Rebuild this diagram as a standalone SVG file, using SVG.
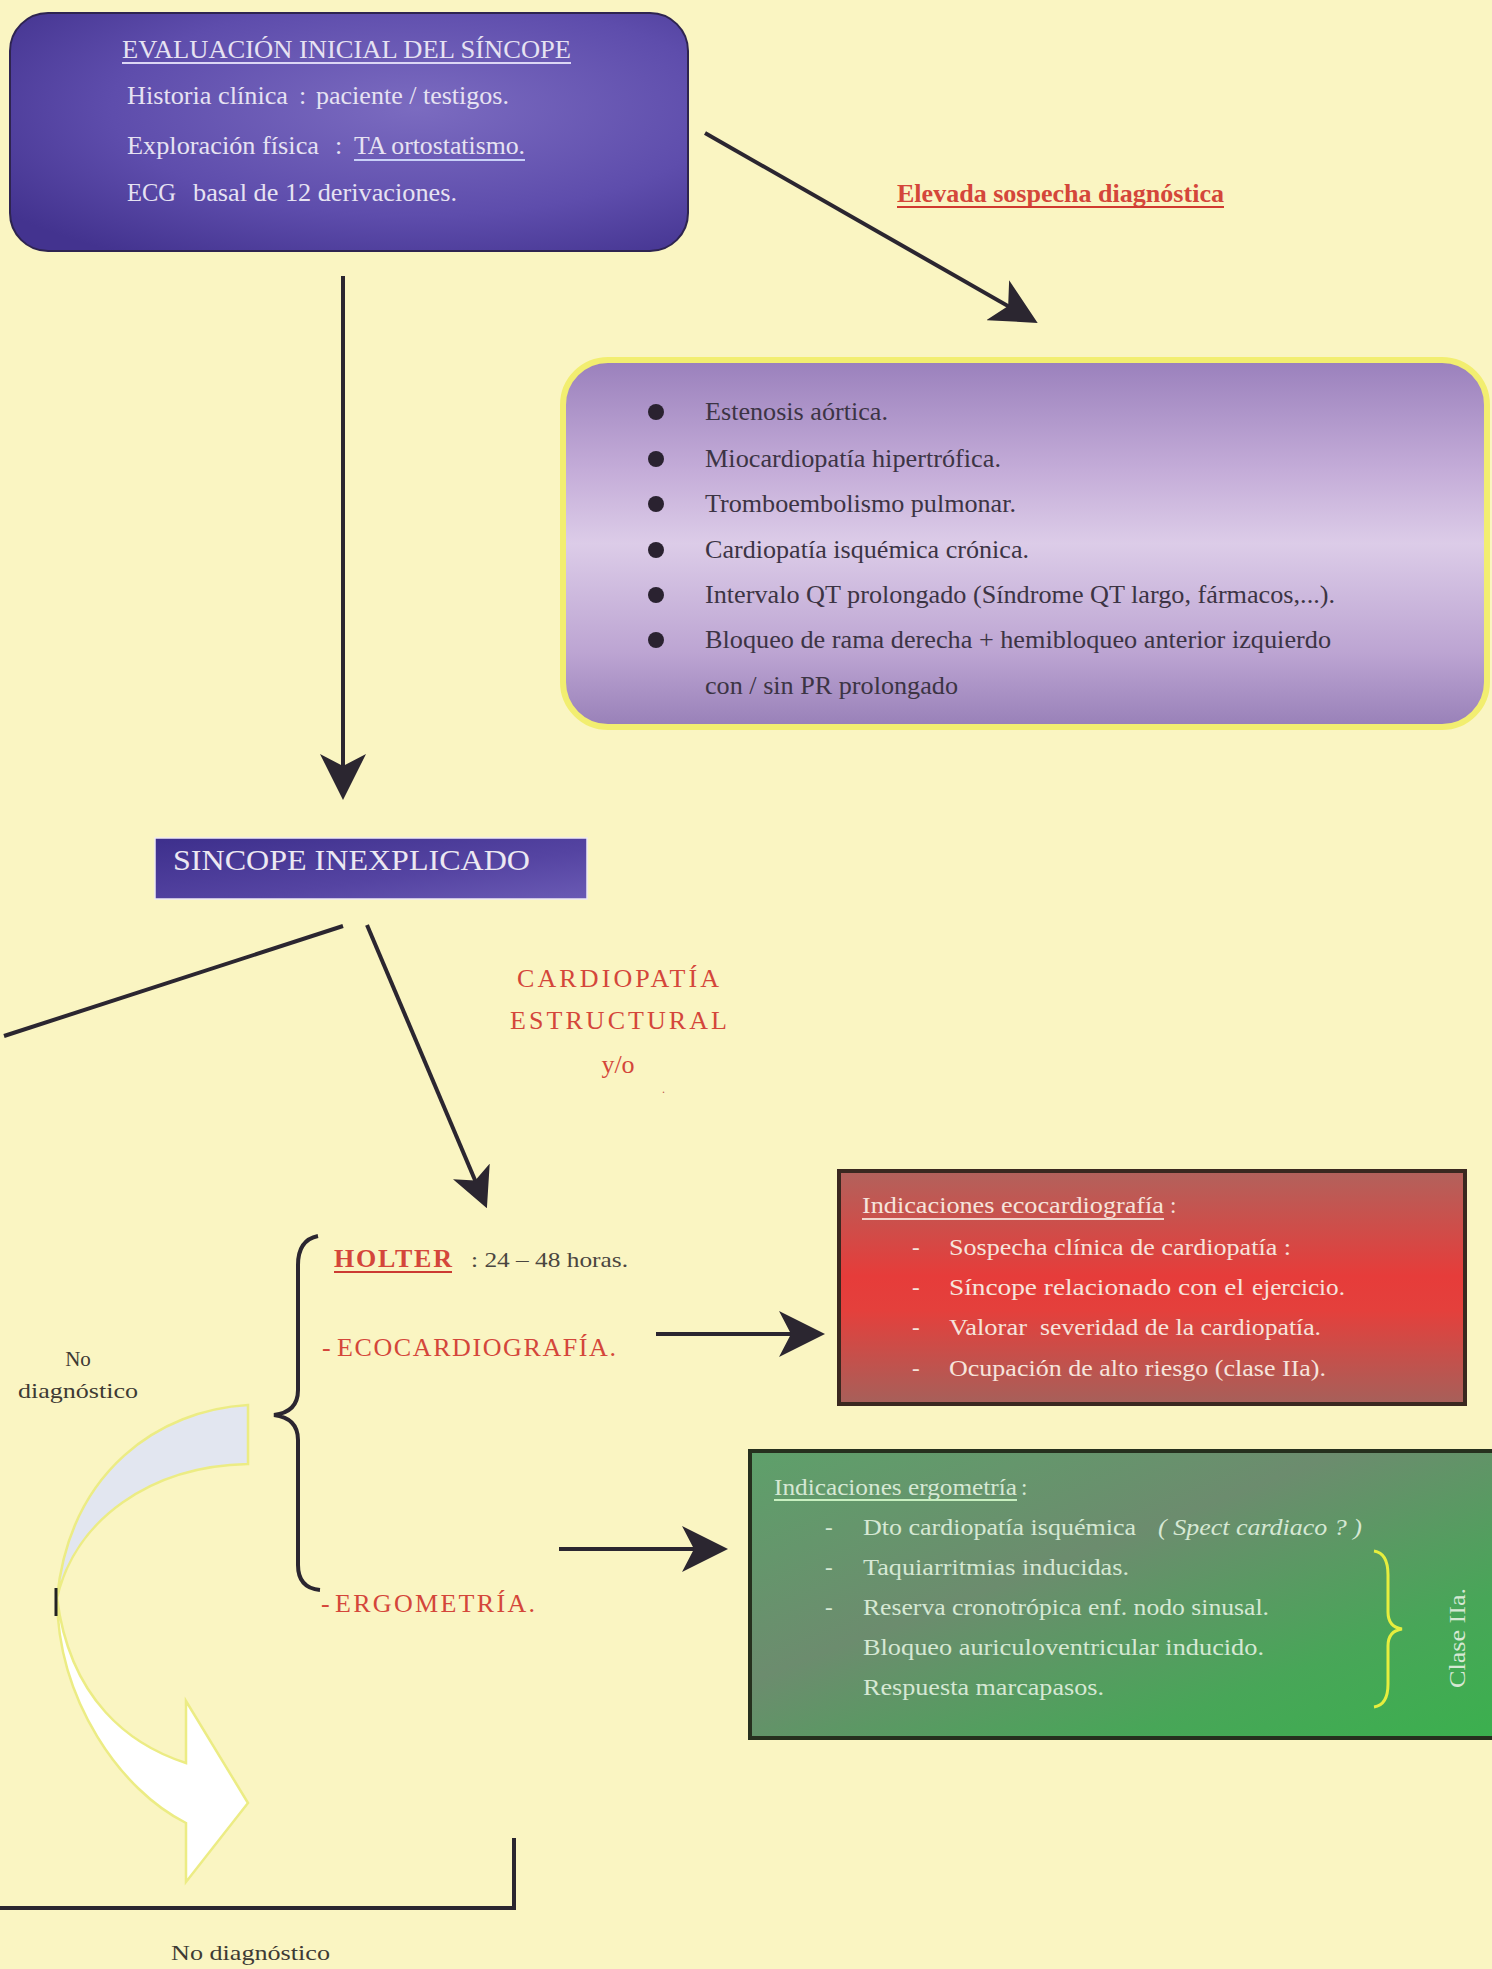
<svg xmlns="http://www.w3.org/2000/svg" width="1492" height="1969" viewBox="0 0 1492 1969">
<style>
text { font-family: "Liberation Serif", "Times New Roman", serif; }
.conn { stroke: #2b2630; stroke-width: 4; fill: none; }
.lite { fill: #e6e2f2; font-size: 26px; }
.list { fill: #3c3444; font-size: 25px; }
.red { fill: #d4463a; font-size: 26px; }
.rbox { font-size: 23px; fill: #f6e4dc; }
.gbox { font-size: 23px; fill: #d6e8d4; }
.ul { stroke-width: 2; }
</style>
<defs>
<marker id="ah" markerUnits="userSpaceOnUse" markerWidth="46" markerHeight="46" viewBox="0 0 46 46" refX="36" refY="23" orient="auto">
<path d="M0,0 L46,23 L0,46 L12,23 Z" fill="#2b2630"/>
</marker>
<marker id="ahs" markerUnits="userSpaceOnUse" markerWidth="40" markerHeight="40" viewBox="0 0 40 40" refX="30" refY="20" orient="auto">
<path d="M0,0 L40,20 L0,40 L10,20 Z" fill="#2b2630"/>
</marker>
<radialGradient id="gTop" cx="0.6" cy="0.4" r="0.75">
<stop offset="0" stop-color="#7b6bc0"/>
<stop offset="0.6" stop-color="#5e4dac"/>
<stop offset="1" stop-color="#43338f"/>
</radialGradient>
<linearGradient id="gList" x1="0" y1="0" x2="0" y2="1">
<stop offset="0" stop-color="#9a80bc"/>
<stop offset="0.3" stop-color="#c4acd8"/>
<stop offset="0.5" stop-color="#dccce8"/>
<stop offset="0.8" stop-color="#bca4d2"/>
<stop offset="1" stop-color="#9880b8"/>
</linearGradient>
<linearGradient id="gSin" x1="0" y1="0" x2="1" y2="1">
<stop offset="0" stop-color="#3d2f8c"/>
<stop offset="0.6" stop-color="#5544a2"/>
<stop offset="1" stop-color="#6a5ab4"/>
</linearGradient>
<linearGradient id="gRed" x1="0" y1="0" x2="0" y2="1">
<stop offset="0" stop-color="#b2625c"/>
<stop offset="0.45" stop-color="#e63c3a"/>
<stop offset="0.6" stop-color="#e4403c"/>
<stop offset="1" stop-color="#a6605a"/>
</linearGradient>
<linearGradient id="gGreen" x1="0" y1="0" x2="1" y2="1">
<stop offset="0" stop-color="#5ea06a"/>
<stop offset="0.4" stop-color="#6c8c6e"/>
<stop offset="0.75" stop-color="#48a658"/>
<stop offset="1" stop-color="#3bb04e"/>
</linearGradient>
</defs>

<rect x="0" y="0" width="1492" height="1969" fill="#faf5c2"/>

<g id="connectors">
<line class="conn" x1="343" y1="276" x2="343" y2="790" marker-end="url(#ah)"/>
<line class="conn" x1="705" y1="133" x2="1029" y2="318" marker-end="url(#ah)"/>
<line class="conn" x1="343" y1="926" x2="4" y2="1036" stroke-width="5"/>
<line class="conn" x1="367" y1="925" x2="483" y2="1199" marker-end="url(#ahs)"/>
<line class="conn" x1="656" y1="1334" x2="815" y2="1334" marker-end="url(#ah)"/>
<line class="conn" x1="559" y1="1549" x2="718" y2="1549" marker-end="url(#ah)"/>
<path class="conn" d="M514,1838 L514,1908 L0,1908"/>
<path d="M248,1405 C160,1410 70,1470 57,1598 C75,1520 150,1466 248,1464 Z" fill="#e2e6f0" stroke="#ecec84" stroke-width="2.5"/>
<path d="M57,1598 C58,1700 120,1790 186,1823 L186,1882 L248,1803 L186,1701 L186,1763 C130,1745 70,1700 57,1598 Z" fill="#ffffff" stroke="#ecec84" stroke-width="2.5"/>
<line x1="56" y1="1588" x2="56" y2="1616" stroke="#222" stroke-width="3"/>
</g>

<g id="node-evaluacion">
<rect x="10" y="13" width="678" height="238" rx="38" fill="url(#gTop)" stroke="#2e2450" stroke-width="2"/>
<text class="lite" x="122" y="58" textLength="449" lengthAdjust="spacingAndGlyphs" fill="#dcd6f5">EVALUACIÓN INICIAL DEL SÍNCOPE</text>
<line class="ul" x1="122" y1="63" x2="571" y2="63" stroke="#dcd6f5"/>
<text class="lite" x="127" y="104" textLength="161" lengthAdjust="spacingAndGlyphs">Historia clínica</text>
<text class="lite" x="299" y="104">:</text>
<text class="lite" x="316" y="104" textLength="193" lengthAdjust="spacingAndGlyphs" fill="#d2cdea">paciente / testigos.</text>
<text class="lite" x="127" y="154" textLength="192" lengthAdjust="spacingAndGlyphs" fill="#ece8b8">Exploración física</text>
<text class="lite" x="335" y="154">:</text>
<text class="lite" x="354" y="154" textLength="171" lengthAdjust="spacingAndGlyphs" fill="#c8d0f8">TA ortostatismo.</text>
<line class="ul" x1="354" y1="160" x2="525" y2="160" stroke="#c8d0f8"/>
<text class="lite" x="127" y="201" textLength="49" lengthAdjust="spacingAndGlyphs">ECG</text>
<text class="lite" x="193" y="201" textLength="264" lengthAdjust="spacingAndGlyphs" fill="#d6d2ee">basal de 12 derivaciones.</text>
</g>

<text x="897" y="202" class="red" font-size="24" font-weight="bold" textLength="327" lengthAdjust="spacingAndGlyphs" fill="#d03a30">Elevada sospecha diagnóstica</text>
<line class="ul" x1="897" y1="207" x2="1224" y2="207" stroke="#d03a30"/>

<g id="node-lista">
<rect x="563" y="360" width="924" height="367" rx="45" fill="url(#gList)" stroke="#f2ee70" stroke-width="6"/>
<g fill="#2a2230">
<circle cx="656" cy="412" r="8"/>
<circle cx="656" cy="459" r="8"/>
<circle cx="656" cy="504" r="8"/>
<circle cx="656" cy="550" r="8"/>
<circle cx="656" cy="595" r="8"/>
<circle cx="656" cy="640" r="8"/>
</g>
<text class="list" x="705" y="420" textLength="183" lengthAdjust="spacingAndGlyphs" fill="#62586e">Estenosis aórtica.</text>
<text class="list" x="705" y="467" textLength="296" lengthAdjust="spacingAndGlyphs">Miocardiopatía hipertrófica.</text>
<text class="list" x="705" y="512" textLength="311" lengthAdjust="spacingAndGlyphs">Tromboembolismo pulmonar.</text>
<text class="list" x="705" y="558" textLength="324" lengthAdjust="spacingAndGlyphs">Cardiopatía isquémica crónica.</text>
<text class="list" x="705" y="603" textLength="630" lengthAdjust="spacingAndGlyphs">Intervalo QT prolongado (Síndrome QT largo, fármacos,...).</text>
<text class="list" x="705" y="648" textLength="626" lengthAdjust="spacingAndGlyphs">Bloqueo de rama derecha + hemibloqueo anterior izquierdo</text>
<text class="list" x="705" y="694" textLength="253" lengthAdjust="spacingAndGlyphs" fill="#5e5470">con / sin PR prolongado</text>
</g>

<g id="node-sincope">
<rect x="155" y="838" width="432" height="61" fill="url(#gSin)" stroke="#efeaf4" stroke-width="1.5"/>
<text x="173" y="870" font-size="30" textLength="357" lengthAdjust="spacingAndGlyphs" fill="#ece8f2">SINCOPE INEXPLICADO</text>
</g>

<g id="label-cardiopatia">
<text class="red" x="517" y="987" textLength="202">CARDIOPATÍA</text>
<text class="red" x="510" y="1029" textLength="217">ESTRUCTURAL</text>
<text class="red" x="618" y="1073" font-size="19" text-anchor="middle" fill="#e0706a">y/o</text>
<text x="662" y="1093" font-size="12" fill="#c05a50">.</text>
</g>

<g id="node-pruebas">
<path class="conn" d="M318,1236 Q298,1240 298,1265 L298,1390 Q298,1412 274,1415 Q298,1418 298,1440 L298,1565 Q298,1588 320,1590"/>
<text class="red" x="334" y="1267" font-size="24" font-weight="bold" textLength="118" fill="#cc3a32">HOLTER</text>
<line class="ul" x1="334" y1="1272" x2="452" y2="1272" stroke="#cc3a32"/>
<text x="471" y="1267" font-size="22" textLength="157" lengthAdjust="spacingAndGlyphs" fill="#4a4640">: 24 – 48 horas.</text>
<text class="red" x="322" y="1356" font-size="20">-</text>
<text class="red" x="337" y="1356" textLength="279">ECOCARDIOGRAFÍA.</text>
<text class="red" x="321" y="1612" font-size="20">-</text>
<text class="red" x="335" y="1612" textLength="200">ERGOMETRÍA.</text>
</g>

<g id="node-eco">
<rect x="839" y="1171" width="626" height="233" fill="url(#gRed)" stroke="#3a2820" stroke-width="4"/>
<text class="rbox" x="862" y="1213" textLength="302" lengthAdjust="spacingAndGlyphs" fill="#f2d4cc">Indicaciones ecocardiografía</text>
<line class="ul" x1="862" y1="1219" x2="1164" y2="1219" stroke="#f2d4cc"/>
<text class="rbox" x="1170" y="1213" fill="#f2d4cc">:</text>
<text class="rbox" x="912" y="1255">-</text>
<text class="rbox" x="912" y="1295">-</text>
<text class="rbox" x="912" y="1335">-</text>
<text class="rbox" x="912" y="1376">-</text>
<text class="rbox" x="949" y="1255" textLength="342" lengthAdjust="spacingAndGlyphs" fill="#f6c462">Sospecha clínica de cardiopatía :</text>
<text class="rbox" x="949" y="1295" textLength="295" lengthAdjust="spacingAndGlyphs">Síncope relacionado con el</text>
<text class="rbox" x="1252" y="1295" textLength="93" lengthAdjust="spacingAndGlyphs" fill="#f6c462">ejercicio.</text>
<text class="rbox" x="949" y="1335" textLength="78" lengthAdjust="spacingAndGlyphs">Valorar</text>
<text class="rbox" x="1040" y="1335" textLength="281" lengthAdjust="spacingAndGlyphs" fill="#f6c462">severidad de la cardiopatía.</text>
<text class="rbox" x="949" y="1376" textLength="377" lengthAdjust="spacingAndGlyphs">Ocupación de alto riesgo (clase IIa).</text>
</g>

<g id="node-ergo">
<rect x="750" y="1451" width="744" height="287" fill="url(#gGreen)" stroke="#26301e" stroke-width="4"/>
<text class="gbox" x="774" y="1495" textLength="243" lengthAdjust="spacingAndGlyphs" fill="#c8f0c0">Indicaciones ergometría</text>
<line class="ul" x1="774" y1="1500" x2="1017" y2="1500" stroke="#c8f0c0"/>
<text class="gbox" x="1021" y="1495" fill="#c8f0c0">:</text>
<text class="gbox" x="825" y="1535">-</text>
<text class="gbox" x="825" y="1575">-</text>
<text class="gbox" x="825" y="1615">-</text>
<text class="gbox" x="863" y="1535" textLength="273" lengthAdjust="spacingAndGlyphs" fill="#e2f062">Dto cardiopatía isquémica</text>
<text class="gbox" x="1158" y="1535" textLength="204" lengthAdjust="spacingAndGlyphs" font-style="italic" fill="#d8e8d8">( Spect cardiaco ? )</text>
<text class="gbox" x="863" y="1575" textLength="266" lengthAdjust="spacingAndGlyphs">Taquiarritmias inducidas.</text>
<text class="gbox" x="863" y="1615" textLength="406" lengthAdjust="spacingAndGlyphs">Reserva cronotrópica enf. nodo sinusal.</text>
<text class="gbox" x="863" y="1655" textLength="401" lengthAdjust="spacingAndGlyphs">Bloqueo auriculoventricular inducido.</text>
<text class="gbox" x="863" y="1695" textLength="241" lengthAdjust="spacingAndGlyphs">Respuesta marcapasos.</text>
<path d="M1374,1551 Q1388,1553 1388,1575 L1388,1612 Q1388,1627 1402,1629 Q1388,1631 1388,1646 L1388,1684 Q1388,1705 1374,1707" fill="none" stroke="#e6ee3e" stroke-width="3"/>
<text class="gbox" x="1457" y="1646" text-anchor="middle" textLength="100" lengthAdjust="spacingAndGlyphs" fill="#c8e2c0" transform="rotate(-90 1457 1638)">Clase IIa.</text>
</g>

<g id="labels-nodiag">
<text x="78" y="1366" font-size="21" text-anchor="middle" fill="#3e3a34">No</text>
<text x="78" y="1398" font-size="21" text-anchor="middle" textLength="120" lengthAdjust="spacingAndGlyphs" fill="#3e3a34">diagnóstico</text>
<text x="171" y="1960" font-size="22" textLength="159" lengthAdjust="spacingAndGlyphs" fill="#3e3a34">No diagnóstico</text>
</g>
</svg>
